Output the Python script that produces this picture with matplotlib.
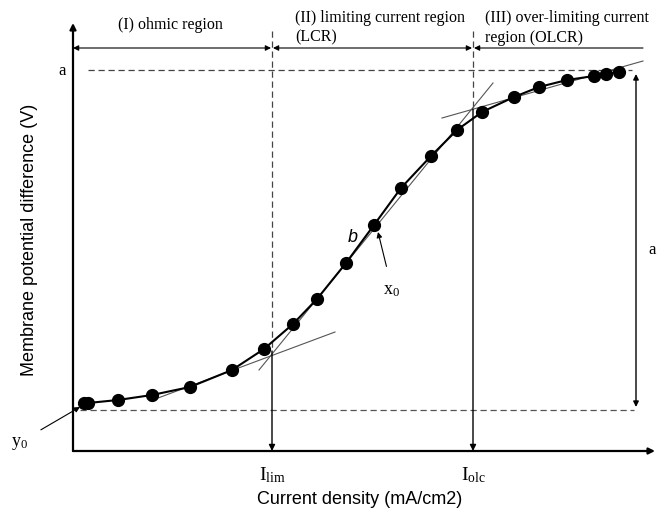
import matplotlib.pyplot as plt

plt.rcParams["mathtext.fontset"] = "custom"
plt.rcParams["mathtext.rm"] = "Liberation Serif"
plt.rcParams["mathtext.it"] = "Liberation Serif:italic"

# measured points (arbitrary current / potential units)
current = [11, 15, 45, 79, 117, 159, 191, 220, 244, 273, 301,
           328, 358, 384, 409, 441, 466, 494, 521, 533, 546]
potential = [48, 48, 51, 56, 64, 81, 102, 127, 152, 188, 226,
             263, 295, 321, 339, 354, 364, 371, 375, 377, 379]

# tangent lines: ohmic, limiting, over-limiting
tangent_x = [(77, 262), (186, 420), (369, 570)]
tangent_y = [(50, 119), (81, 368), (333, 390)]

y0_level = 41
a_level = 381
i_lim = 199
i_olc = 400

serif = "Liberation Serif"
sans = "Liberation Sans"

fig = plt.figure(figsize=(6.65, 5.10), dpi=100)
ax = fig.add_axes([73 / 665, 58 / 510, 592 / 665, 452 / 510])
ax.set_xlim(0, 592)
ax.set_ylim(0, 452)
ax.axis("off")

arrow = dict(arrowstyle="-|>", color="black", lw=1.0, mutation_scale=9, shrinkA=0, shrinkB=0)
dbl = dict(arrowstyle="<|-|>", color="black", lw=0.8, mutation_scale=8, shrinkA=0, shrinkB=0)
dash = (0, (5, 3))

# axes
ax.annotate("", xy=(582, 0), xytext=(0, 0), arrowprops=dict(arrow, lw=1.6), annotation_clip=False)
ax.annotate("", xy=(0, 428), xytext=(0, 0), arrowprops=dict(arrow, lw=1.6), annotation_clip=False)

# guide lines
ax.plot([15, 559], [a_level, a_level], ls=dash, color="#444444", lw=0.9)
ax.plot([7, 561], [y0_level, y0_level], ls=dash, color="#555555", lw=0.9)
ax.plot([i_lim, i_lim], [420, 100], ls=dash, color="#444444", lw=0.9)
ax.plot([i_olc, i_olc], [420, 342], ls=dash, color="#444444", lw=0.9)
ax.annotate("", xy=(i_lim, 0), xytext=(i_lim, 100), arrowprops=arrow)
ax.annotate("", xy=(i_olc, 0), xytext=(i_olc, 342), arrowprops=arrow)

# region arrows
ax.annotate("", xy=(0, 403), xytext=(i_lim - 1, 403), arrowprops=dbl)
ax.annotate("", xy=(i_lim + 1, 403), xytext=(i_olc - 1, 403), arrowprops=dbl)
ax.annotate("", xy=(i_olc + 1, 403), xytext=(570, 403),
            arrowprops=dict(dbl, arrowstyle="-|>"), annotation_clip=False)

# amplitude arrow
ax.annotate("", xy=(563, 44), xytext=(563, 377), arrowprops=dict(dbl, lw=1.0))

# tangents
for tx, ty in zip(tangent_x, tangent_y):
    ax.plot(tx, ty, color="#555555", lw=0.8)

# data
ax.plot(current, potential, color="black", lw=1.5, marker="o", ms=8.5,
        markerfacecolor="black", markeredgecolor="black", zorder=5)

# texts
ax.text(97, 427, "(I) ohmic region", family=serif, fontsize=11.5, ha="center", va="center")
ax.text(222, 442, "(II) limiting current region\n(LCR)", family=serif, fontsize=11.5,
        ha="left", va="top", linespacing=1.3)
ax.text(412, 442, "(III) over-limiting current\nregion (OLCR)", family=serif, fontsize=11.5,
        ha="left", va="top", linespacing=1.3)
ax.text(-11, a_level, "a", family=serif, fontsize=12, ha="center", va="center")
ax.text(579, 202, "a", family=serif, fontsize=12, ha="center", va="center")
ax.text(280, 215, "b", family=sans, style="italic", fontsize=13, ha="center", va="center")

ax.annotate(r"$\mathrm{x}_{0}$", xy=(305, 219), xytext=(319, 162), fontsize=13,
            ha="center", va="center",
            arrowprops=dict(arrowstyle="-|>", color="black", lw=0.8, mutation_scale=8, shrinkA=8, shrinkB=0))
ax.annotate(r"$\mathrm{y}_{0}$", xy=(7, 44), xytext=(-53, 9), fontsize=13,
            ha="center", va="center", annotation_clip=False,
            arrowprops=dict(arrowstyle="-|>", color="black", lw=0.8, mutation_scale=8, shrinkA=8, shrinkB=0))

ax.text(i_lim, -23, r"$\mathrm{I}_{\mathrm{lim}}$", fontsize=14, ha="center", va="center")
ax.text(i_olc, -23, r"$\mathrm{I}_{\mathrm{olc}}$", fontsize=14, ha="center", va="center")

ax.text(287, -48, "Current density (mA/cm2)", family=sans, fontsize=13, ha="center", va="center")
ax.text(-43, 212, "Membrane potential difference (V)", family=sans, fontsize=13,
        ha="center", va="center", rotation=90)

fig.savefig("out.png", dpi=100)
